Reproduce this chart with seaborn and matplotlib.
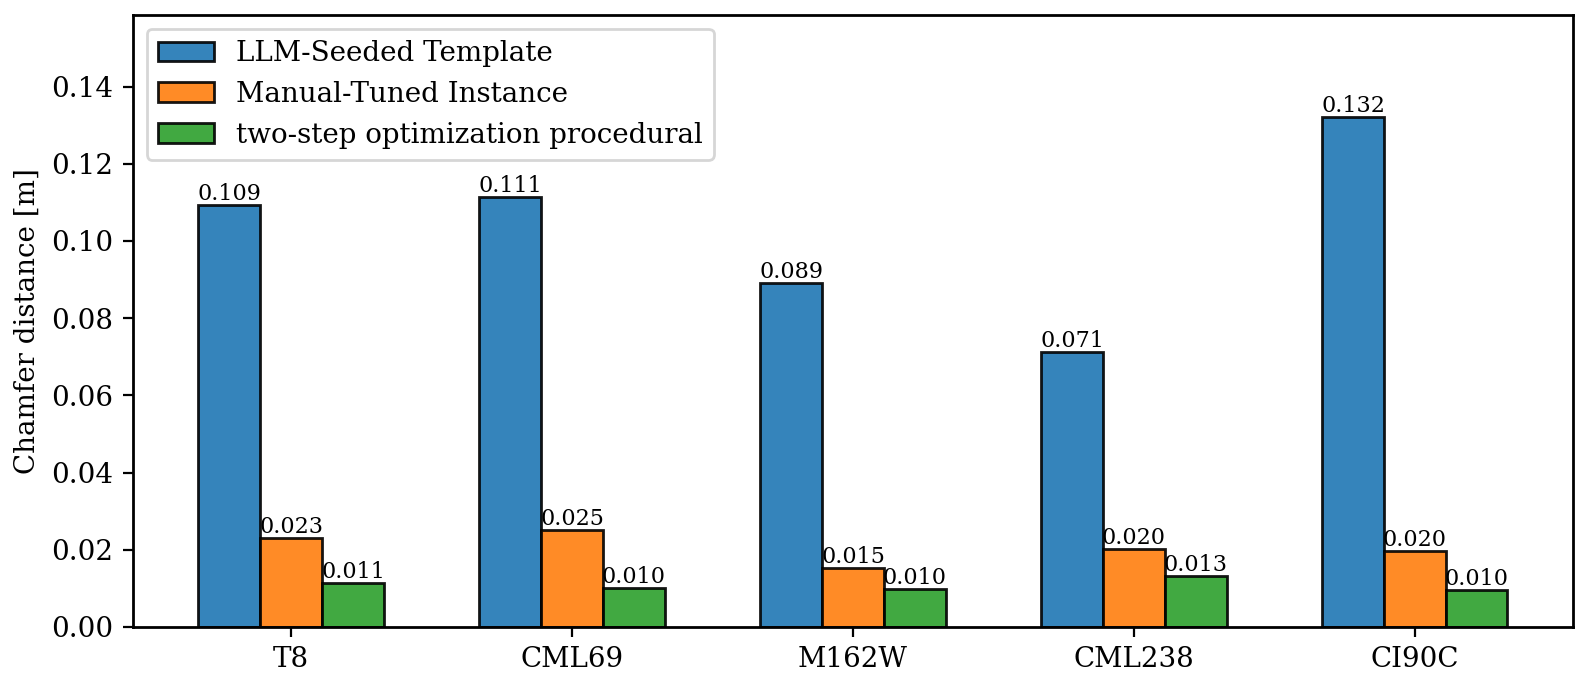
import pandas as pd
import seaborn as sns
import matplotlib.pyplot as plt

# chamfer distance per scene and method
scenes = ["T8", "CML69", "M162W", "CML238", "CI90C"]
methods = ["LLM-Seeded Template", "Manual-Tuned Instance", "two-step optimization procedural"]
llm_seeded = [0.1094, 0.1114, 0.0892, 0.0713, 0.1321]
manual_tuned = [0.0230, 0.0252, 0.0153, 0.0201, 0.0197]
two_step = [0.0114, 0.0102, 0.0098, 0.0132, 0.0096]

plt.rcParams['font.family'] = ['DejaVu Serif']
plt.rcParams['axes.linewidth'] = 1.0

rows = []
for m, vals in zip(methods, [llm_seeded, manual_tuned, two_step]):
    for s, v in zip(scenes, vals):
        rows.append({"scene": s, "method": m, "cd": v})
df = pd.DataFrame(rows)

fig, ax = plt.subplots(figsize=(7.945, 3.415), dpi=200)
fig.subplots_adjust(left=0.0837, right=0.9899, bottom=0.082, top=0.978)

palette = sns.color_palette("tab10", 3)
sns.barplot(data=df, x="scene", y="cd", hue="method", order=scenes, hue_order=methods,
            palette=palette, saturation=1, alpha=0.9, edgecolor="black", linewidth=1.0,
            width=0.66, errorbar=None, ax=ax)

for c in ax.containers:
    ax.bar_label(c, fmt="%.3f", fontsize=8, padding=0)

n = len(scenes)
ax.set_xlim(-0.33 - 0.233, n - 1 + 0.33 + 0.233)
ax.set_ylim(0, max(llm_seeded) * 1.2)
ax.set_xlabel("")
ax.set_ylabel("Chamfer distance [m]", fontsize=10)
ax.tick_params(labelsize=10)
ax.legend(loc="upper left", fontsize=10)

fig.savefig("out.png", dpi=200)
